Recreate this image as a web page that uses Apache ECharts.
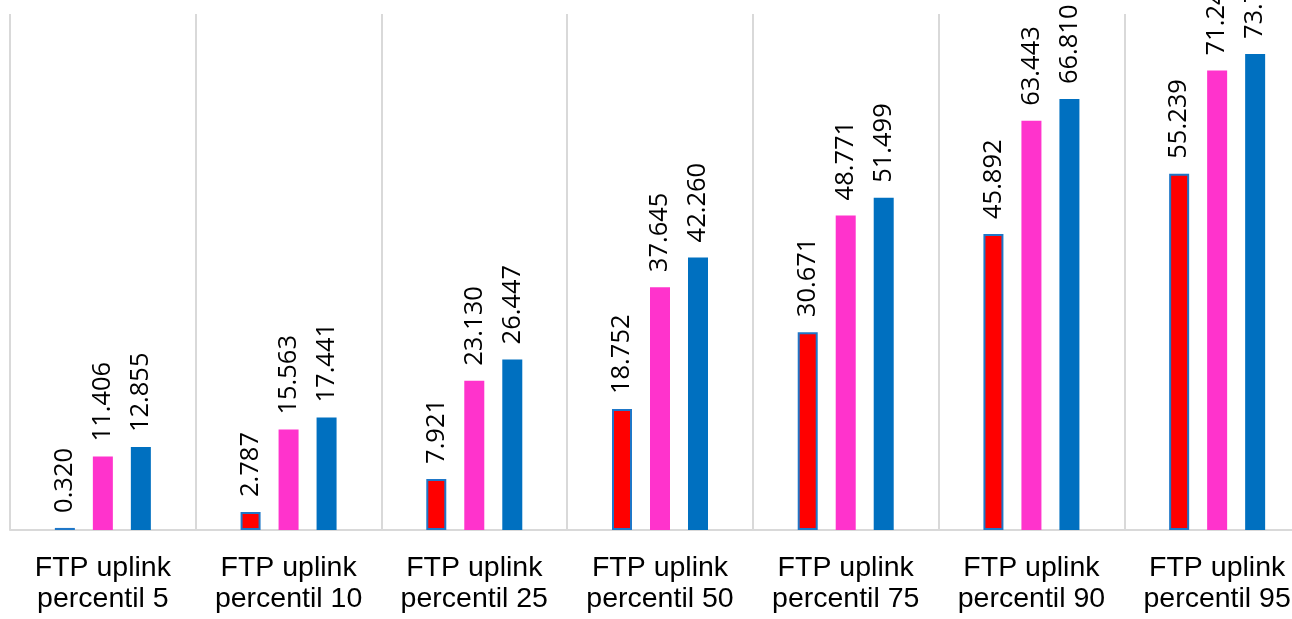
<!DOCTYPE html>
<html><head><meta charset="utf-8">
<script src="https://cdn.jsdelivr.net/npm/echarts@6/dist/echarts.min.js"></script>
<style>html,body{margin:0;padding:0;background:#fff;overflow:hidden}#c{width:1330px;height:619px}</style>
</head><body><div id="c"></div>
<script>
var categories = ["FTP uplink\npercentil 5","FTP uplink\npercentil 10","FTP uplink\npercentil 25","FTP uplink\npercentil 50","FTP uplink\npercentil 75","FTP uplink\npercentil 90","FTP uplink\npercentil 95"];
var seriesRed = [0.320, 2.787, 7.921, 18.752, 30.671, 45.892, 55.239];
var seriesPink = [11.406, 15.563, 23.130, 37.645, 48.771, 63.443, 71.243];
var seriesBlue = [12.855, 17.441, 26.447, 42.260, 51.499, 66.810, 73.790];

var labelCfg = {
  show: true, position: 'top', rotate: 90, align: 'left', verticalAlign: 'middle',
  distance: 15, color: '#000', fontFamily: 'Open Sans', fontSize: 25.5,
  formatter: function(p){ return p.value.toFixed(3); }
};
function mk(name, data, color, border){
  return {
    name: name, type: 'bar', data: data, barWidth: 20, barGap: '90%',
    itemStyle: {color: color, borderColor: border, borderWidth: border ? 2 : 0},
    label: labelCfg, animation: false
  };
}
var chart = echarts.init(document.getElementById('c'));
chart.setOption({
  animation: false,
  grid: {left: 10, top: 14, width: 1300, height: 516, containLabel: false},
  xAxis: {
    type: 'category', data: categories,
    axisLine: {show: true, lineStyle: {color: '#d9d9d9', width: 2}},
    axisTick: {show: false},
    splitLine: {show: true, lineStyle: {color: '#d9d9d9', width: 2}},
    axisLabel: {color: '#000', fontFamily: 'Liberation Sans', fontSize: 28.5, lineHeight: 31, margin: 23, interval: 0}
  },
  yAxis: {
    type: 'value', min: 0, max: 80, show: true,
    axisLine: {show: false}, axisTick: {show: false}, axisLabel: {show: false},
    splitLine: {show: false}
  },
  series: [
    mk('A', seriesRed, '#FF0000', '#1F77C8'),
    mk('B', seriesPink, '#FF33CC', null),
    mk('C', seriesBlue, '#0070C0', null)
  ]
});
</script></body></html>
